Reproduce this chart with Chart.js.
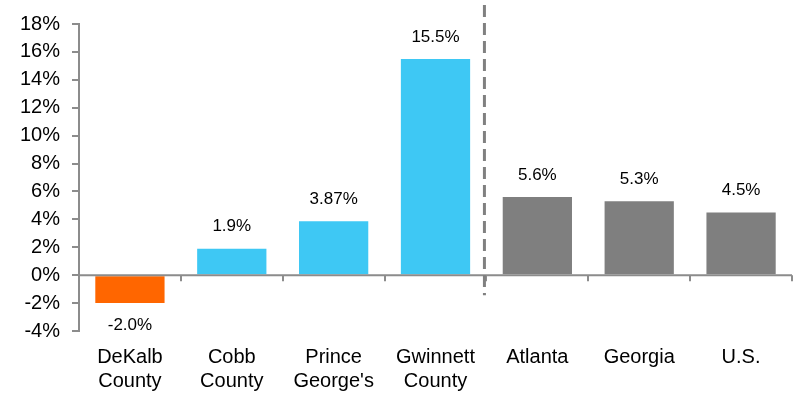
<!DOCTYPE html>
<html lang="en">
<head>
    <meta charset="UTF-8">
    <title>Growth Comparison</title>
    <style>
        html, body { margin: 0; padding: 0; background: #fff; }
        .chart-box { width: 796px; height: 395px; }
    </style>
</head>
<body>
    <div class="chart-box">
        <canvas id="growthChart" width="796" height="395"></canvas>
    </div>

    <script src="https://cdn.jsdelivr.net/npm/chart.js"></script>
    <script>
// categories and values
const categories = [
    ['DeKalb', 'County'],
    ['Cobb', 'County'],
    ['Prince', "George's"],
    ['Gwinnett', 'County'],
    'Atlanta',
    'Georgia',
    'U.S.'
];
const growth = [-2.0, 1.9, 3.87, 15.5, 5.6, 5.3, 4.5];
const decimals = [1, 1, 2, 1, 1, 1, 1];
const barColors = ['#FF6600', '#3EC8F4', '#3EC8F4', '#3EC8F4', '#7F7F7F', '#7F7F7F', '#7F7F7F'];

// y axis range
const yMin = -4;
const yMax = 18;
const yStep = 2;

const axisGray = '#8c8c8c';
const fontFamily = '"Liberation Sans", Arial, sans-serif';

// zero line, category ticks, divider and value labels
const extrasPlugin = {
    id: 'extras',
    afterDatasetsDraw(chart) {
        const ctx = chart.ctx;
        const x = chart.scales.x;
        const y = chart.scales.y;
        const area = chart.chartArea;
        const zeroY = y.getPixelForValue(0);
        const half = (x.getPixelForValue(1) - x.getPixelForValue(0)) / 2;

        ctx.save();
        ctx.strokeStyle = axisGray;
        ctx.lineWidth = 2;
        ctx.beginPath();
        ctx.moveTo(area.left, zeroY);
        ctx.lineTo(area.right, zeroY);
        for (let i = 0; i < categories.length; i++) {
            const bx = Math.round(x.getPixelForValue(i) + half);
            ctx.moveTo(bx, zeroY);
            ctx.lineTo(bx, zeroY + 6);
        }
        ctx.stroke();

        // dashed divider between counties and benchmarks
        const divX = (x.getPixelForValue(3) + x.getPixelForValue(4)) / 2 - 2;
        ctx.strokeStyle = '#808080';
        ctx.lineWidth = 3;
        ctx.setLineDash([12, 6]);
        ctx.beginPath();
        ctx.moveTo(divX, 5);
        ctx.lineTo(divX, zeroY + 20);
        ctx.stroke();
        ctx.setLineDash([]);

        // value labels
        ctx.fillStyle = '#000';
        ctx.font = '17px ' + fontFamily;
        ctx.textAlign = 'center';
        ctx.textBaseline = 'middle';
        chart.getDatasetMeta(0).data.forEach((bar, i) => {
            const v = growth[i];
            const ly = v >= 0 ? bar.y - 22 : bar.y + 22;
            ctx.fillText(v.toFixed(decimals[i]) + '%', bar.x, ly);
        });
        ctx.restore();
    }
};

const chart = new Chart(document.getElementById('growthChart'), {
    type: 'bar',
    data: {
        labels: categories,
        datasets: [{
            data: growth,
            backgroundColor: barColors,
            borderWidth: 0,
            categoryPercentage: 1,
            barPercentage: 0.68
        }]
    },
    options: {
        responsive: false,
        animation: false,
        layout: { padding: { top: 22, right: 4, left: 0, bottom: 0 } },
        plugins: {
            legend: { display: false },
            tooltip: { enabled: false }
        },
        scales: {
            x: {
                grid: { display: false, drawTicks: false },
                border: { display: false },
                ticks: {
                    color: '#000',
                    font: { size: 20, family: fontFamily, lineHeight: 1.2 },
                    padding: 14,
                    maxRotation: 0,
                    autoSkip: false
                },
                afterFit(scale) { scale.height = 64; }
            },
            y: {
                min: yMin,
                max: yMax,
                grid: {
                    drawOnChartArea: false,
                    drawTicks: true,
                    tickLength: 7,
                    color: axisGray,
                    lineWidth: 2
                },
                border: { display: true, color: axisGray, width: 2 },
                ticks: {
                    stepSize: yStep,
                    color: '#000',
                    font: { size: 20, family: fontFamily },
                    padding: 12,
                    callback: v => v + '%'
                },
                afterFit(scale) { scale.width = 79; }
            }
        }
    },
    plugins: [extrasPlugin]
});
    </script>
</body>
</html>
